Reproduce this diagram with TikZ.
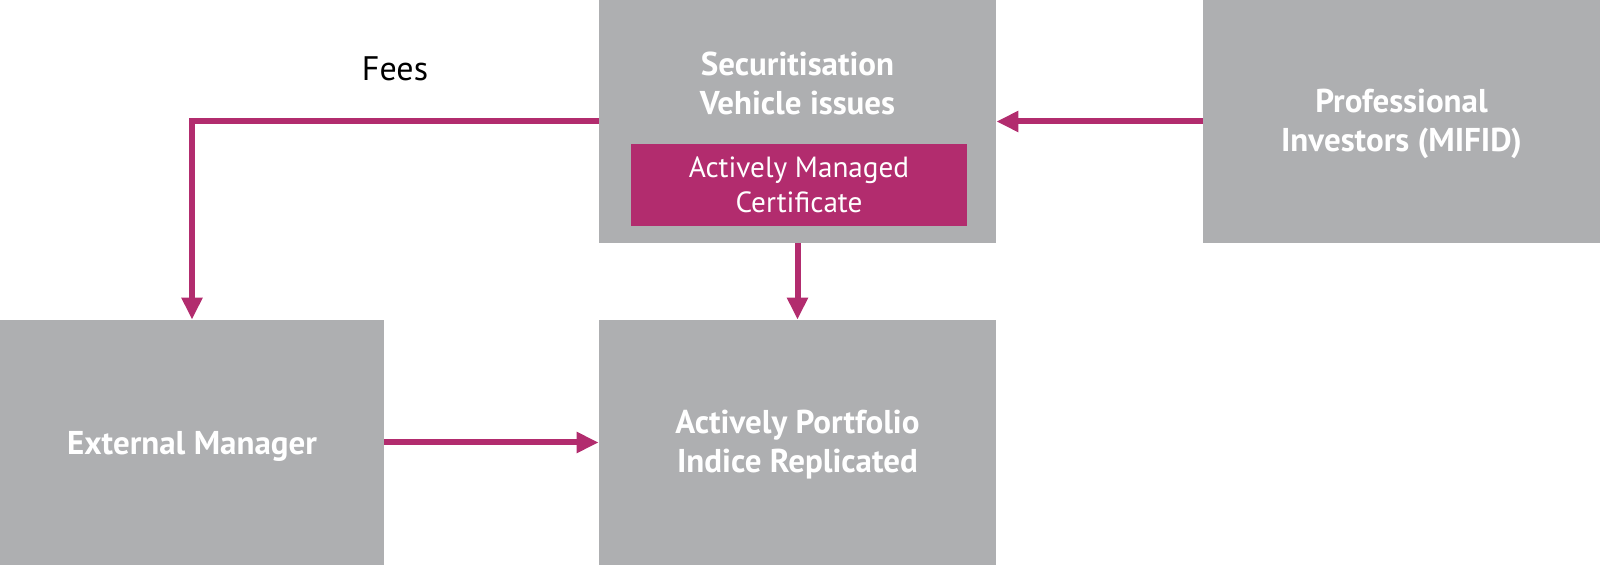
\documentclass[tikz,border=0pt]{standalone}
\usepackage{fontspec}
\setmainfont{PT Sans}
\usetikzlibrary{arrows.meta}
\definecolor{boxgray}{HTML}{AEAFB1}
\definecolor{plum}{HTML}{B22C6E}

\begin{document}
\begin{tikzpicture}[x=0.5pt,y=-0.5pt,
    greybox/.style={fill=boxgray,inner sep=0pt,minimum width=198.5pt,minimum height=121.5pt},
    boxtext/.style={text=white,font=\bfseries\fontsize{16.5}{19.5}\selectfont,align=center},
    flow/.style={draw=plum,line width=3pt,-{Triangle[length=11pt,width=10pt]}}]
  \useasboundingbox (0,0) rectangle (1600,565);
  % boxes
  \node[greybox] (sv) at (797.5,121.5) {};
  \node[greybox] (pi) at (1401.5,121.5) {};
  \node[greybox,minimum width=192pt,minimum height=122.5pt] (em) at (192,442.5) {};
  \node[greybox,minimum height=122.5pt] (ap) at (797.5,442.5) {};
  \node[fill=plum,inner sep=0pt,minimum width=168pt,minimum height=41pt,
    text=white,font=\fontsize{14.6}{17.5}\selectfont,align=center] (amc) at (799,185)
    {Actively Managed\\Certificate};
  % texts
  \node[boxtext] (svtext) at (797.5,83) {Securitisation\\Vehicle issues};
  \node[boxtext] (pitext) at (1401.5,124) {Professional\\Investors (MIFID)};
  \node[boxtext] (emtext) at (192,446) {External Manager};
  \node[boxtext] (aptext) at (797.5,444.5) {Actively Portfolio\\Indice Replicated};
  \node[font=\fontsize{17}{20}\selectfont] (fees) at (395,69) {Fees};
  % connectors
  \coordinate (corner) at (em.north |- sv.west);
  \draw[flow] (sv.west) -- (corner) -- (em.north);
  \draw[flow] (pi.west) -- (sv.east);
  \draw[flow] (sv.south) -- (ap.north);
  \draw[flow] (em.east) -- (ap.west);
\end{tikzpicture}
\end{document}
